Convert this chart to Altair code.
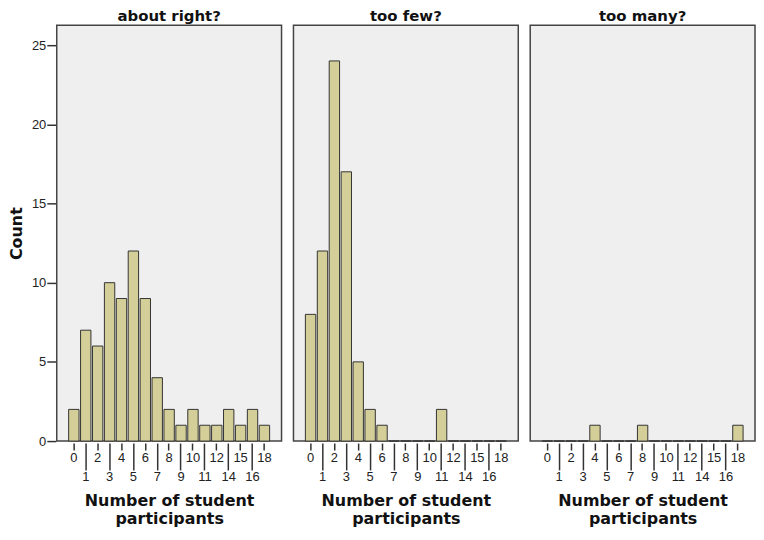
import altair as alt
import pandas as pd

categories = ["0", "1", "2", "3", "4", "5", "6", "7", "8", "9", "10", "11", "12", "14", "15", "16", "18"]
panels = ["about right?", "too few?", "too many?"]
about_right = [2, 7, 6, 10, 9, 12, 9, 4, 2, 1, 2, 1, 1, 2, 1, 2, 1]
too_few = [8, 12, 24, 17, 5, 2, 1, 0, 0, 0, 0, 2, 0, 0, 0, 0, 0]
too_many = [0, 0, 0, 0, 1, 0, 0, 0, 1, 0, 0, 0, 0, 0, 0, 0, 1]
second_row = ["1", "3", "5", "7", "9", "11", "14", "16"]
y_ticks = [0, 5, 10, 15, 20, 25]
x_title = ["Number of student", "participants"]
y_title = "Count"

rows = []
for panel, series in zip(panels, [about_right, too_few, too_many]):
    for cat, val in zip(categories, series):
        rows.append({"panel": panel, "n": cat, "count": val})
df = pd.DataFrame(rows)

odd_test = " || ".join("datum.value === '%s'" % c for c in second_row)

x_axis = alt.Axis(
    title=x_title,
    labelAngle=0,
    labelFont="Liberation Sans",
    labelFontSize=13,
    labelColor="#222222",
    labelPadding={"condition": {"test": odd_test, "value": 1}, "value": 2},
    tickSize={"condition": {"test": odd_test, "value": 27}, "value": 7},
    tickColor="#333333",
    tickWidth=1.5,
    domain=False,
    titleFont="DejaVu Sans",
    titleFontSize=16,
    titleFontWeight="bold",
    titleColor="#111111",
    titlePadding=9,
    titleLineHeight=18,
)

y_axis = alt.Axis(
    title=y_title,
    values=y_ticks,
    grid=False,
    domain=False,
    labelFont="Liberation Sans",
    labelFontSize=13,
    labelColor="#222222",
    labelPadding=1,
    tickSize=9,
    tickColor="#333333",
    tickWidth=1.5,
    titleFont="DejaVu Sans",
    titleFontSize=16,
    titleFontWeight="bold",
    titleColor="#111111",
    titlePadding=7,
)

chart = (
    alt.Chart(df)
    .mark_bar(fill="#d4cf98", stroke="#333333", strokeWidth=1)
    .encode(
        x=alt.X("n:N", sort=categories,
                scale=alt.Scale(paddingInner=0.13, paddingOuter=1.0),
                axis=x_axis),
        y=alt.Y("count:Q", scale=alt.Scale(domain=[0, 26.25], nice=False), axis=y_axis),
    )
    .properties(width=226, height=418)
    .facet(
        column=alt.Column(
            "panel:N",
            sort=panels,
            title=None,
            header=alt.Header(
                labelFont="DejaVu Sans",
                labelFontSize=15,
                labelFontWeight="bold",
                labelColor="#111111",
                labelPadding=0,
            ),
        )
    )
    .configure_facet(spacing=10)
    .configure_view(fill="#efefef", stroke="#444444", strokeWidth=1.5)
    .properties(padding={"left": 0, "top": 0, "right": 0, "bottom": 0})
)

chart.save("out.html", embed_options={"renderer": "svg", "actions": False})
